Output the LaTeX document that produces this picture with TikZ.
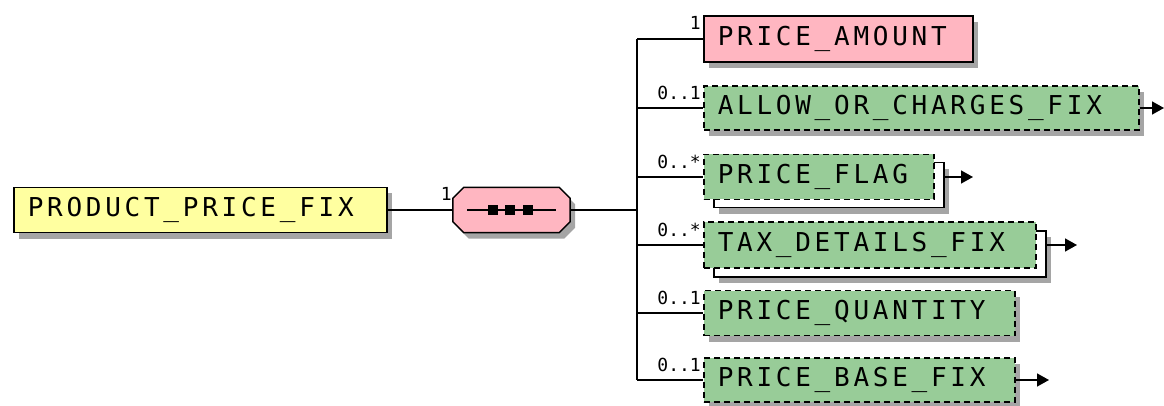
\documentclass[tikz,border=0pt]{standalone}
\usepackage{fontspec}
\newfontfamily\boxfont[LetterSpace=14.4]{DejaVu Sans Mono}
\newfontfamily\multfont{DejaVu Sans Mono}
\usetikzlibrary{shadows,arrows.meta}
\definecolor{elyellow}{RGB}{255,255,160}
\definecolor{elpink}{RGB}{255,182,193}
\definecolor{elgreen}{RGB}{152,204,152}
\definecolor{shadowgray}{RGB}{165,165,165}
\begin{document}
\begin{tikzpicture}[x=1pt,y=-1pt,
  shad/.style={drop shadow={shadow xshift=5pt,shadow yshift=-6pt,fill=shadowgray,opacity=1}},
  elbox/.style={draw=black,line width=1.5pt,anchor=west,inner xsep=14pt,inner ysep=0pt,
    align=left,font=\boxfont\fontsize{26}{30}\selectfont},
  reqbox/.style={elbox,fill=elpink,shad},
  optbox/.style={elbox,fill=elgreen,dash pattern=on 6pt off 4pt},
  backbox/.style={draw=black,line width=1.5pt,fill=white,inner sep=0pt,anchor=north west,shad},
  conn/.style={draw=black,line width=1.5pt},
  arr/.style={conn,-{Triangle[length=12pt,width=13pt]}},
  mult/.style={font=\multfont\fontsize{18}{20}\selectfont,inner sep=0pt,anchor=south east}
]
\useasboundingbox (0,0) rectangle (1164,406);

% root
\node[elbox,fill=elyellow,shad,text width=345pt,minimum height=45pt] (root) at (13,210) {PRODUCT\_PRICE\_FIX};
% sequence compositor
\node[draw=none,inner sep=0pt,minimum width=117pt,minimum height=45pt] (seq) at (511.5,210) {};
\draw[line width=1.5pt,fill=elpink,shad]
  ([xshift=11pt]seq.north west) -- ([xshift=-11pt]seq.north east) -- ([yshift=-11pt]seq.north east)
  -- ([yshift=11pt]seq.south east) -- ([xshift=-11pt]seq.south east) -- ([xshift=11pt]seq.south west)
  -- ([yshift=11pt]seq.south west) -- ([yshift=-11pt]seq.north west) -- cycle;
\draw[conn] (root.east) -- (seq.west);
\node[mult] (seqm) at ([xshift=-1pt,yshift=9pt]seq.west) {1};
% sequence symbol
\coordinate (sl) at (467,210);
\coordinate (sr) at (556,210);
\draw[line width=1.5pt] (sl) -- (sr);
\foreach \cx in {493,510,528} \fill (\cx-5,205) rectangle (\cx+5,215);

% bus
\coordinate (bj) at (637,210);
\coordinate (btop) at (637,39);
\coordinate (bbot) at (637,380);
\draw[conn] (seq.east) -- (bj);
\draw[conn] (btop) -- (bbot);

% children
\node[reqbox,text width=241pt,minimum height=46pt] (amount) at (703,39) {PRICE\_AMOUNT};
\node[optbox,shad,text width=407pt,minimum height=44pt] (allow) at (703,108) {ALLOW\_OR\_CHARGES\_FIX};
\node[backbox,minimum width=230pt,minimum height=45pt] (flagback) at (713,162) {};
\node[optbox,text width=202pt,minimum height=45pt] (flag) at (703,177) {PRICE\_FLAG};
\node[backbox,minimum width=332pt,minimum height=46pt] (taxback) at (713,230) {};
\node[optbox,text width=304pt,minimum height=46pt] (tax) at (703,245) {TAX\_DETAILS\_FIX};
\node[optbox,shad,text width=283pt,minimum height=45pt] (qty) at (703,313) {PRICE\_QUANTITY};
\node[optbox,shad,text width=283pt,minimum height=44pt] (base) at (703,380) {PRICE\_BASE\_FIX};

\foreach \n/\y in {amount/39,allow/108,flag/177,tax/245,qty/313,base/380}
  \draw[conn] (637,\y) -- (\n.west);

\node[mult] at ([xshift=-2pt,yshift=9pt]amount.west) {1};
\node[mult] at ([xshift=-2pt,yshift=8pt]allow.west) {0..1};
\node[mult] at ([xshift=-2pt,yshift=8pt]flag.west) {0..*};
\node[mult] at ([xshift=-2pt,yshift=8pt]tax.west) {0..*};
\node[mult] at ([xshift=-2pt,yshift=8pt]qty.west) {0..1};
\node[mult] at ([xshift=-2pt,yshift=8pt]base.west) {0..1};

% arrows
\coordinate (allowtip) at (1164,108);
\coordinate (flagtip) at (973,177);
\coordinate (taxtip) at (1077,245);
\coordinate (basetip) at (1049,380);
\draw[arr] (allow.east) -- (allowtip);
\draw[arr] (flagback.east |- flag.east) -- (flagtip);
\draw[arr] (taxback.east |- tax.east) -- (taxtip);
\draw[arr] (base.east) -- (basetip);
\end{tikzpicture}
\end{document}
